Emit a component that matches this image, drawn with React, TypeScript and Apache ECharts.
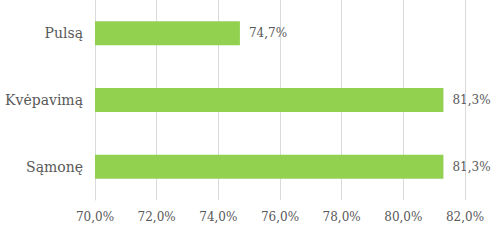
import React, { useEffect, useRef } from "react";
import * as echarts from "echarts";

const categories = ["Pulsą", "Kvėpavimą", "Sąmonę"];
const values = [74.7, 81.3, 81.3];
const axisMin = 70;
const axisMax = 82;
const axisStep = 2;

const FONT = "DejaVu Serif";
const fmt = (v: number) => v.toFixed(1).replace(".", ",") + "%";

export default function App() {
  const ref = useRef<HTMLDivElement>(null);
  useEffect(() => {
    if (!ref.current) return;
    const chart = echarts.init(ref.current, undefined, { renderer: "svg" });
    chart.setOption({
      animation: false,
      backgroundColor: "#ffffff",
      textStyle: { fontFamily: FONT },
      grid: {
        left: 95,
        right: 35,
        top: 0,
        bottom: 41,
        containLabel: false,
        outerBoundsMode: "none",
      },
      xAxis: {
        type: "value",
        min: axisMin,
        max: axisMax,
        interval: axisStep,
        axisLine: { show: false },
        axisTick: { show: false },
        splitLine: { show: true, lineStyle: { color: "#d9d9d9", width: 1 } },
        axisLabel: {
          formatter: (v: number) => fmt(v),
          fontFamily: FONT,
          fontSize: 12,
          color: "#595959",
          margin: 11,
        },
      },
      yAxis: {
        type: "category",
        data: categories,
        inverse: true,
        axisLine: { show: true, lineStyle: { color: "#d9d9d9" } },
        axisTick: { show: false },
        axisLabel: {
          fontFamily: FONT,
          fontSize: 14,
          color: "#595959",
          margin: 12,
        },
      },
      series: [
        {
          type: "bar",
          data: values,
          barWidth: "36%",
          itemStyle: { color: "#92D050" },
          label: {
            show: true,
            position: "right",
            distance: 9,
            formatter: (p: any) => fmt(p.value),
            fontFamily: FONT,
            fontSize: 12,
            color: "#595959",
          },
        },
      ],
    });
    return () => chart.dispose();
  }, []);
  return (
    <div
      ref={ref}
      style={{ position: "fixed", left: 0, top: 0, width: 500, height: 241 }}
    />
  );
}
